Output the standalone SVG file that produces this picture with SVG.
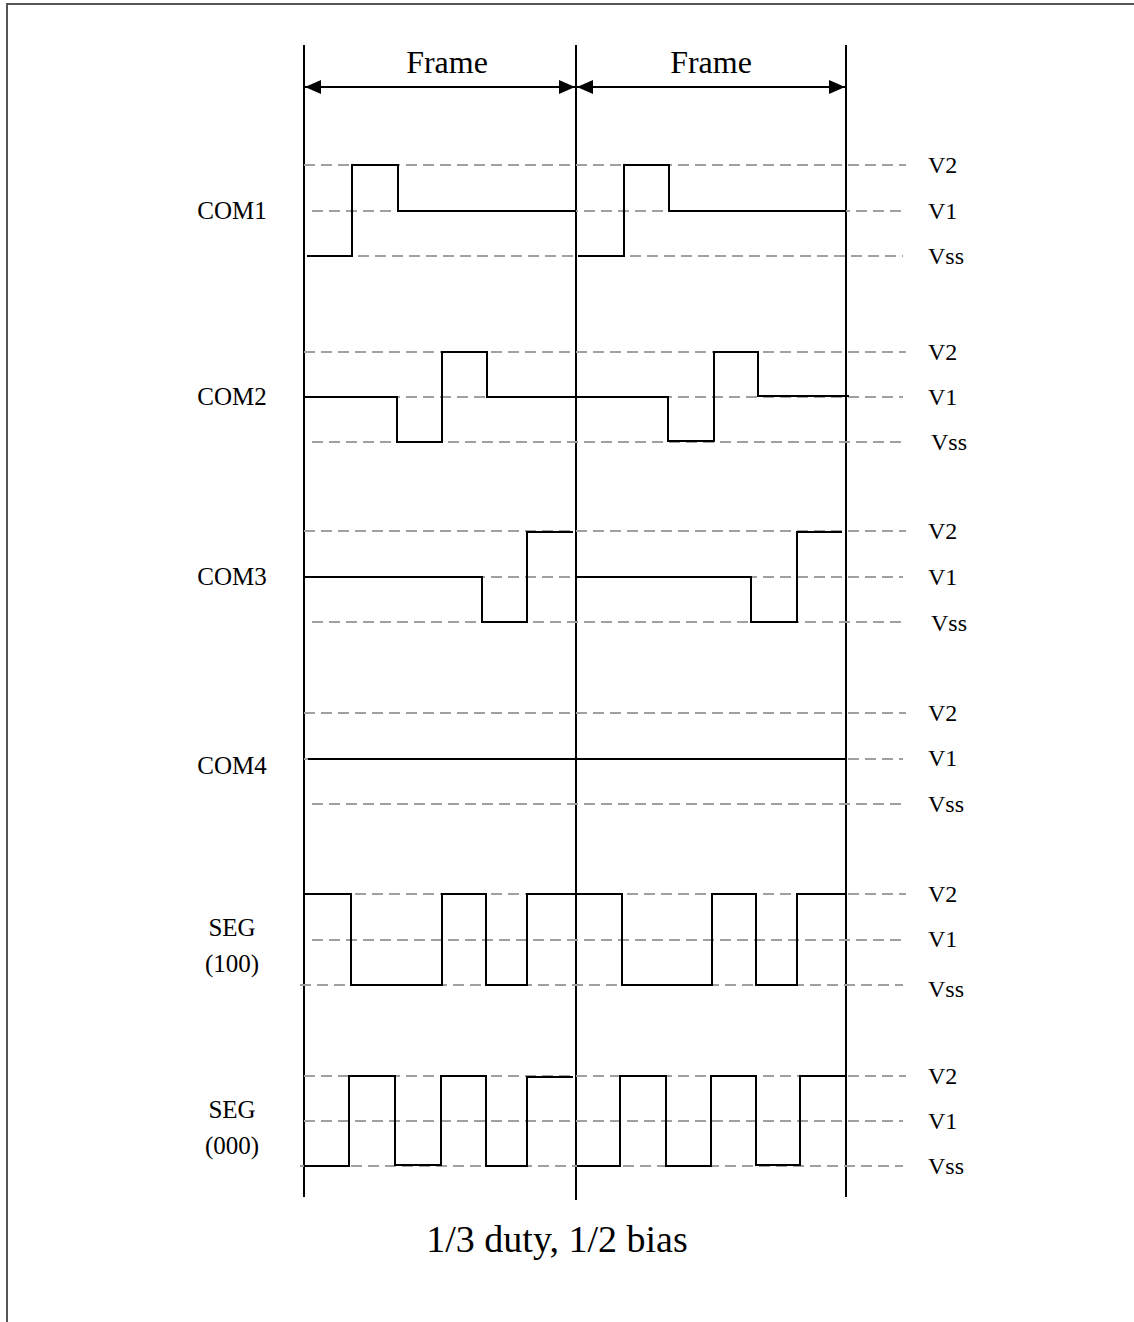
<svg xmlns="http://www.w3.org/2000/svg" width="1134" height="1322" viewBox="0 0 1134 1322">
<style>
text{font-family:"Liberation Serif","Times New Roman",serif;fill:#000}
.lbl{font-size:25px}
.rl{font-size:24px}
.ttl{font-size:32px}
.cap{font-size:38px}
.dash{stroke:#a0a0a0;stroke-width:1.8;stroke-dasharray:11 6;fill:none}
.wave{stroke:#000;stroke-width:2;fill:none}
.vl{stroke:#000;stroke-width:2}
</style>
<defs>
<marker id="ah" viewBox="0 0 16 14" refX="16" refY="7" markerWidth="16" markerHeight="14" markerUnits="userSpaceOnUse" orient="auto-start-reverse">
<path d="M0,0 L16,7 L0,14 Z" fill="#000"/>
</marker>
</defs>
<rect width="1134" height="1322" fill="#fff"/>
<g id="border"><polyline points="7,1322 7,4 1134,4" fill="none" stroke="#555" stroke-width="2"/></g>

<g id="frames">
<line class="vl" x1="304" y1="45" x2="304" y2="1197"/>
<line class="vl" x1="576" y1="45" x2="576" y2="1200"/>
<line class="vl" x1="846" y1="45" x2="846" y2="1197"/>
<line x1="305" y1="87" x2="575" y2="87" stroke="#000" stroke-width="2" marker-start="url(#ah)" marker-end="url(#ah)"/>
<line x1="577" y1="87" x2="845" y2="87" stroke="#000" stroke-width="2" marker-start="url(#ah)" marker-end="url(#ah)"/>
<text class="ttl" x="447" y="73" text-anchor="middle">Frame</text>
<text class="ttl" x="711" y="73" text-anchor="middle">Frame</text>
</g>

<g id="levels">
<path class="dash" d="M304,165H906M312,211H903M307,256H903"/>
<path class="dash" d="M304,352H906M304,397H903M312,442H903"/>
<path class="dash" d="M304,531H906M304,577H903M312,622H903"/>
<path class="dash" d="M304,713H906M304,759H903M312,804H903"/>
<path class="dash" d="M304,894H906M312,940H903M300,985H903"/>
<path class="dash" d="M304,1076H906M304,1121H903M300,1166H903"/>
</g>

<g id="com1">
<text class="lbl" x="232" y="219" text-anchor="middle">COM1</text>
<polyline class="wave" points="307,256 352,256 352,165 398,165 398,211 576,211"/>
<polyline class="wave" points="578,256 624,256 624,165 669,165 669,211 846,211"/>
</g>
<g id="com2">
<text class="lbl" x="232" y="405" text-anchor="middle">COM2</text>
<polyline class="wave" points="304,397 397,397 397,442 442,442 442,352 487,352 487,397 576,397"/>
<polyline class="wave" points="576,397 668,397 668,441 714,441 714,352 758,352 758,396 849,396"/>
</g>
<g id="com3">
<text class="lbl" x="232" y="585" text-anchor="middle">COM3</text>
<polyline class="wave" points="304,577 482,577 482,622 527,622 527,532 573,532"/>
<polyline class="wave" points="576,577 751,577 751,622 797,622 797,532 842,532"/>
</g>
<g id="com4">
<text class="lbl" x="232" y="774" text-anchor="middle">COM4</text>
<polyline class="wave" points="308,759 846,759"/>
</g>
<g id="seg100">
<text class="lbl" x="232" y="936" text-anchor="middle">SEG</text>
<text class="lbl" x="232" y="972" text-anchor="middle">(100)</text>
<polyline class="wave" points="304,894 351,894 351,985 442,985 442,894 486,894 486,985 527,985 527,894 576,894"/>
<polyline class="wave" points="576,894 622,894 622,985 712,985 712,894 756,894 756,985 797,985 797,894 846,894"/>
</g>
<g id="seg000">
<text class="lbl" x="232" y="1118" text-anchor="middle">SEG</text>
<text class="lbl" x="232" y="1154" text-anchor="middle">(000)</text>
<polyline class="wave" points="304,1166 349,1166 349,1076 395,1076 395,1165 441,1165 441,1076 486,1076 486,1166 527,1166 527,1077 573,1077"/>
<polyline class="wave" points="577,1166 620,1166 620,1076 666,1076 666,1166 711,1166 711,1076 756,1076 756,1165 800,1165 800,1076 846,1076"/>
</g>

<g id="levellabels">
<text class="rl" x="928" y="173">V2</text><text class="rl" x="928" y="219">V1</text><text class="rl" x="928" y="264">Vss</text>
<text class="rl" x="928" y="360">V2</text><text class="rl" x="928" y="405">V1</text><text class="rl" x="931" y="450">Vss</text>
<text class="rl" x="928" y="539">V2</text><text class="rl" x="928" y="585">V1</text><text class="rl" x="931" y="631">Vss</text>
<text class="rl" x="928" y="721">V2</text><text class="rl" x="928" y="766">V1</text><text class="rl" x="928" y="812">Vss</text>
<text class="rl" x="928" y="902">V2</text><text class="rl" x="928" y="947">V1</text><text class="rl" x="928" y="997">Vss</text>
<text class="rl" x="928" y="1084">V2</text><text class="rl" x="928" y="1129">V1</text><text class="rl" x="928" y="1174">Vss</text>
</g>

<text class="cap" x="557" y="1252" text-anchor="middle">1/3 duty, 1/2 bias</text>
</svg>
